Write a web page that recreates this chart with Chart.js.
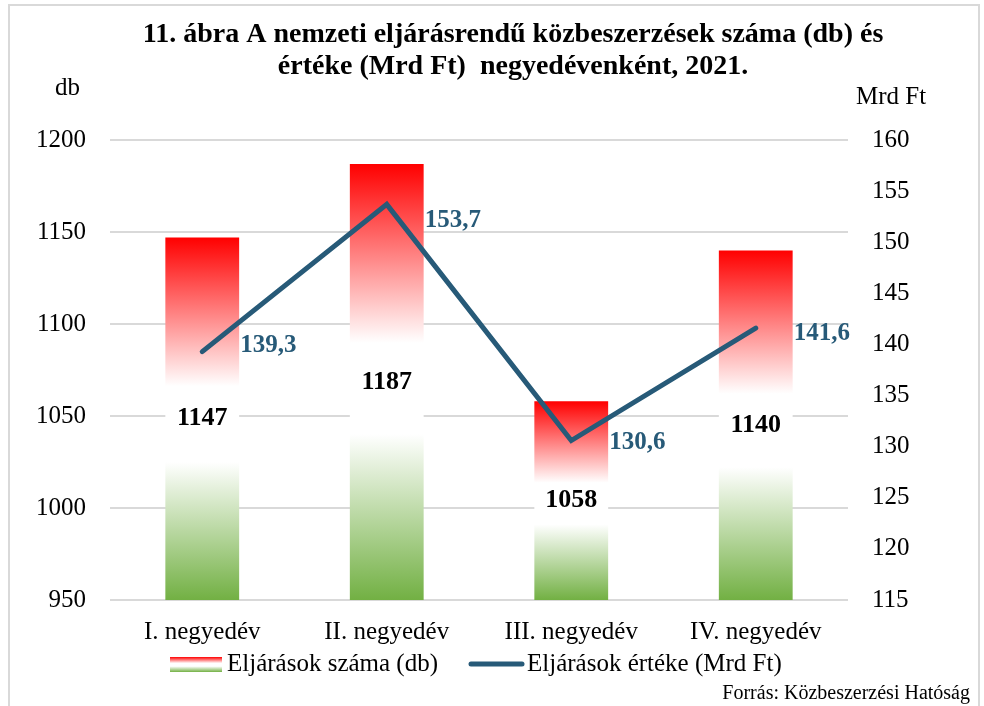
<!DOCTYPE html>
<html lang="hu">
<head>
<meta charset="UTF-8">
<title>Nemzeti eljárásrendű közbeszerzések, 2021</title>
<script src="https://cdn.jsdelivr.net/npm/chart.js"></script>
<style>
    body { margin: 0; background: #ffffff; }
    #wrap { width: 984px; height: 706px; position: relative; }
</style>
</head>
<body>
<div id="wrap">
    <canvas id="chart"></canvas>
</div>
<script>
    // adatok
    const categories = ['I. negyedév', 'II. negyedév', 'III. negyedév', 'IV. negyedév'];
    const darabszam = [1147, 1187, 1058, 1140];
    const ertek = [139.3, 153.7, 130.6, 141.6];
    const leftTicks = [950, 1000, 1050, 1100, 1150, 1200];
    const rightTicks = [115, 120, 125, 130, 135, 140, 145, 150, 155, 160];

    const titleLines = ['11. ábra A nemzeti eljárásrendű közbeszerzések száma (db) és',
                        'értéke (Mrd Ft)  negyedévenként, 2021.'];
    const forras = 'Forrás: Közbeszerzési Hatóság';

    const FONT = "'Liberation Serif', 'Times New Roman', serif";
    const LINE_COLOR = '#275a78';
    const GRID = '#d9d9d9';

    function flagGradient(ctx, top, bottom) {
        const g = ctx.createLinearGradient(0, top, 0, bottom);
        g.addColorStop(0, '#ff0000');
        g.addColorStop(0.41, '#ffffff');
        g.addColorStop(0.62, '#ffffff');
        g.addColorStop(1, '#72b043');
        return g;
    }

    // feliratok, keret, jelmagyarázat
    const decor = {
        id: 'decor',
        beforeDraw(chart) {
            const c = chart.ctx;
            c.save();
            c.strokeStyle = GRID;
            c.lineWidth = 2;
            c.strokeRect(9, 5, 970, 720);
            c.restore();
        },
        afterDatasetsDraw(chart) {
            const c = chart.ctx;
            const sc = chart.scales.y;
            const xs = chart.scales.x;
            c.save();
            // oszlopok értékei
            c.font = 'bold 26px ' + FONT;
            c.fillStyle = '#000000';
            c.textAlign = 'center';
            c.textBaseline = 'middle';
            darabszam.forEach((v, i) => {
                const top = sc.getPixelForValue(v);
                const bottom = sc.getPixelForValue(sc.min);
                c.fillText(String(v), xs.getPixelForValue(i), (top + bottom) / 2);
            });
            // vonal értékei
            const lineMeta = chart.getDatasetMeta(1);
            const dy = [-6, 16, 2, 5];
            c.font = 'bold 25px ' + FONT;
            c.fillStyle = LINE_COLOR;
            c.textAlign = 'left';
            lineMeta.data.forEach((el, i) => {
                c.fillText(ertek[i].toFixed(1).replace('.', ','), el.x + 38, el.y + dy[i]);
            });
            c.restore();
        },
        afterDraw(chart) {
            const c = chart.ctx;
            c.save();
            // cím
            c.fillStyle = '#000';
            c.textAlign = 'center';
            c.textBaseline = 'middle';
            c.font = 'bold 28px ' + FONT;
            c.fillText(titleLines[0], 513, 35);
            c.fillText(titleLines[1], 513, 67);
            // tengelyfeliratok
            c.font = '25px ' + FONT;
            c.textAlign = 'left';
            c.fillText('db', 55, 88);
            c.fillText('Mrd Ft', 856, 97);
            // jelmagyarázat
            const ly = 664;
            c.fillStyle = flagGradient(c, 657, 672);
            c.fillRect(170, 657, 52, 15);
            c.fillStyle = '#000';
            c.fillText(chart.data.datasets[0].label, 227, ly);
            c.strokeStyle = LINE_COLOR;
            c.lineWidth = 5;
            c.lineCap = 'round';
            c.beginPath();
            c.moveTo(471, ly);
            c.lineTo(522, ly);
            c.stroke();
            c.fillText(chart.data.datasets[1].label, 527, ly);
            // forrás
            c.font = '20px ' + FONT;
            c.textAlign = 'right';
            c.fillText(forras, 970, 694);
            c.restore();
        }
    };

    const tickFont = { family: FONT, size: 25 };
    const plain = (v) => String(v);

    const ctx = document.getElementById('chart').getContext('2d');
    new Chart(ctx, {
        type: 'bar',
        data: {
            labels: categories,
            datasets: [{
                label: 'Eljárások száma (db)',
                data: darabszam,
                yAxisID: 'y',
                order: 1,
                categoryPercentage: 1.0,
                barPercentage: 0.4,
                backgroundColor: (context) => {
                    const chart = context.chart;
                    if (!chart.chartArea) return '#ff0000';
                    const sc = chart.scales.y;
                    const top = sc.getPixelForValue(context.raw);
                    const bottom = sc.getPixelForValue(sc.min);
                    return flagGradient(chart.ctx, top, bottom);
                }
            }, {
                type: 'line',
                label: 'Eljárások értéke (Mrd Ft)',
                data: ertek,
                yAxisID: 'y1',
                order: 0,
                borderColor: LINE_COLOR,
                borderWidth: 5,
                borderCapStyle: 'round',
                borderJoinStyle: 'miter',
                pointRadius: 0,
                tension: 0
            }]
        },
        options: {
            responsive: true,
            maintainAspectRatio: false,
            animation: false,
            layout: { padding: { top: 140, left: 0, right: 0, bottom: 0 } },
            plugins: {
                legend: { display: false },
                title: { display: false },
                tooltip: { enabled: false }
            },
            scales: {
                x: {
                    grid: { display: false, drawTicks: false },
                    border: { display: false },
                    ticks: { color: '#000', font: tickFont, padding: 17 },
                    afterFit: (s) => { s.height = 106; }
                },
                y: {
                    position: 'left',
                    min: leftTicks[0],
                    max: leftTicks[leftTicks.length - 1],
                    afterBuildTicks: (s) => { s.ticks = leftTicks.map(v => ({ value: v })); },
                    grid: { color: GRID, lineWidth: 2, drawTicks: false },
                    border: { display: false },
                    ticks: { color: '#000', font: tickFont, padding: 24, callback: plain },
                    afterFit: (s) => { s.width = 110; }
                },
                y1: {
                    position: 'right',
                    min: rightTicks[0],
                    max: rightTicks[rightTicks.length - 1],
                    afterBuildTicks: (s) => { s.ticks = rightTicks.map(v => ({ value: v })); },
                    grid: { display: false, drawTicks: false },
                    border: { display: false },
                    ticks: { color: '#000', font: tickFont, padding: 24, callback: plain },
                    afterFit: (s) => { s.width = 136; }
                }
            }
        },
        plugins: [decor]
    });
</script>
</body>
</html>
